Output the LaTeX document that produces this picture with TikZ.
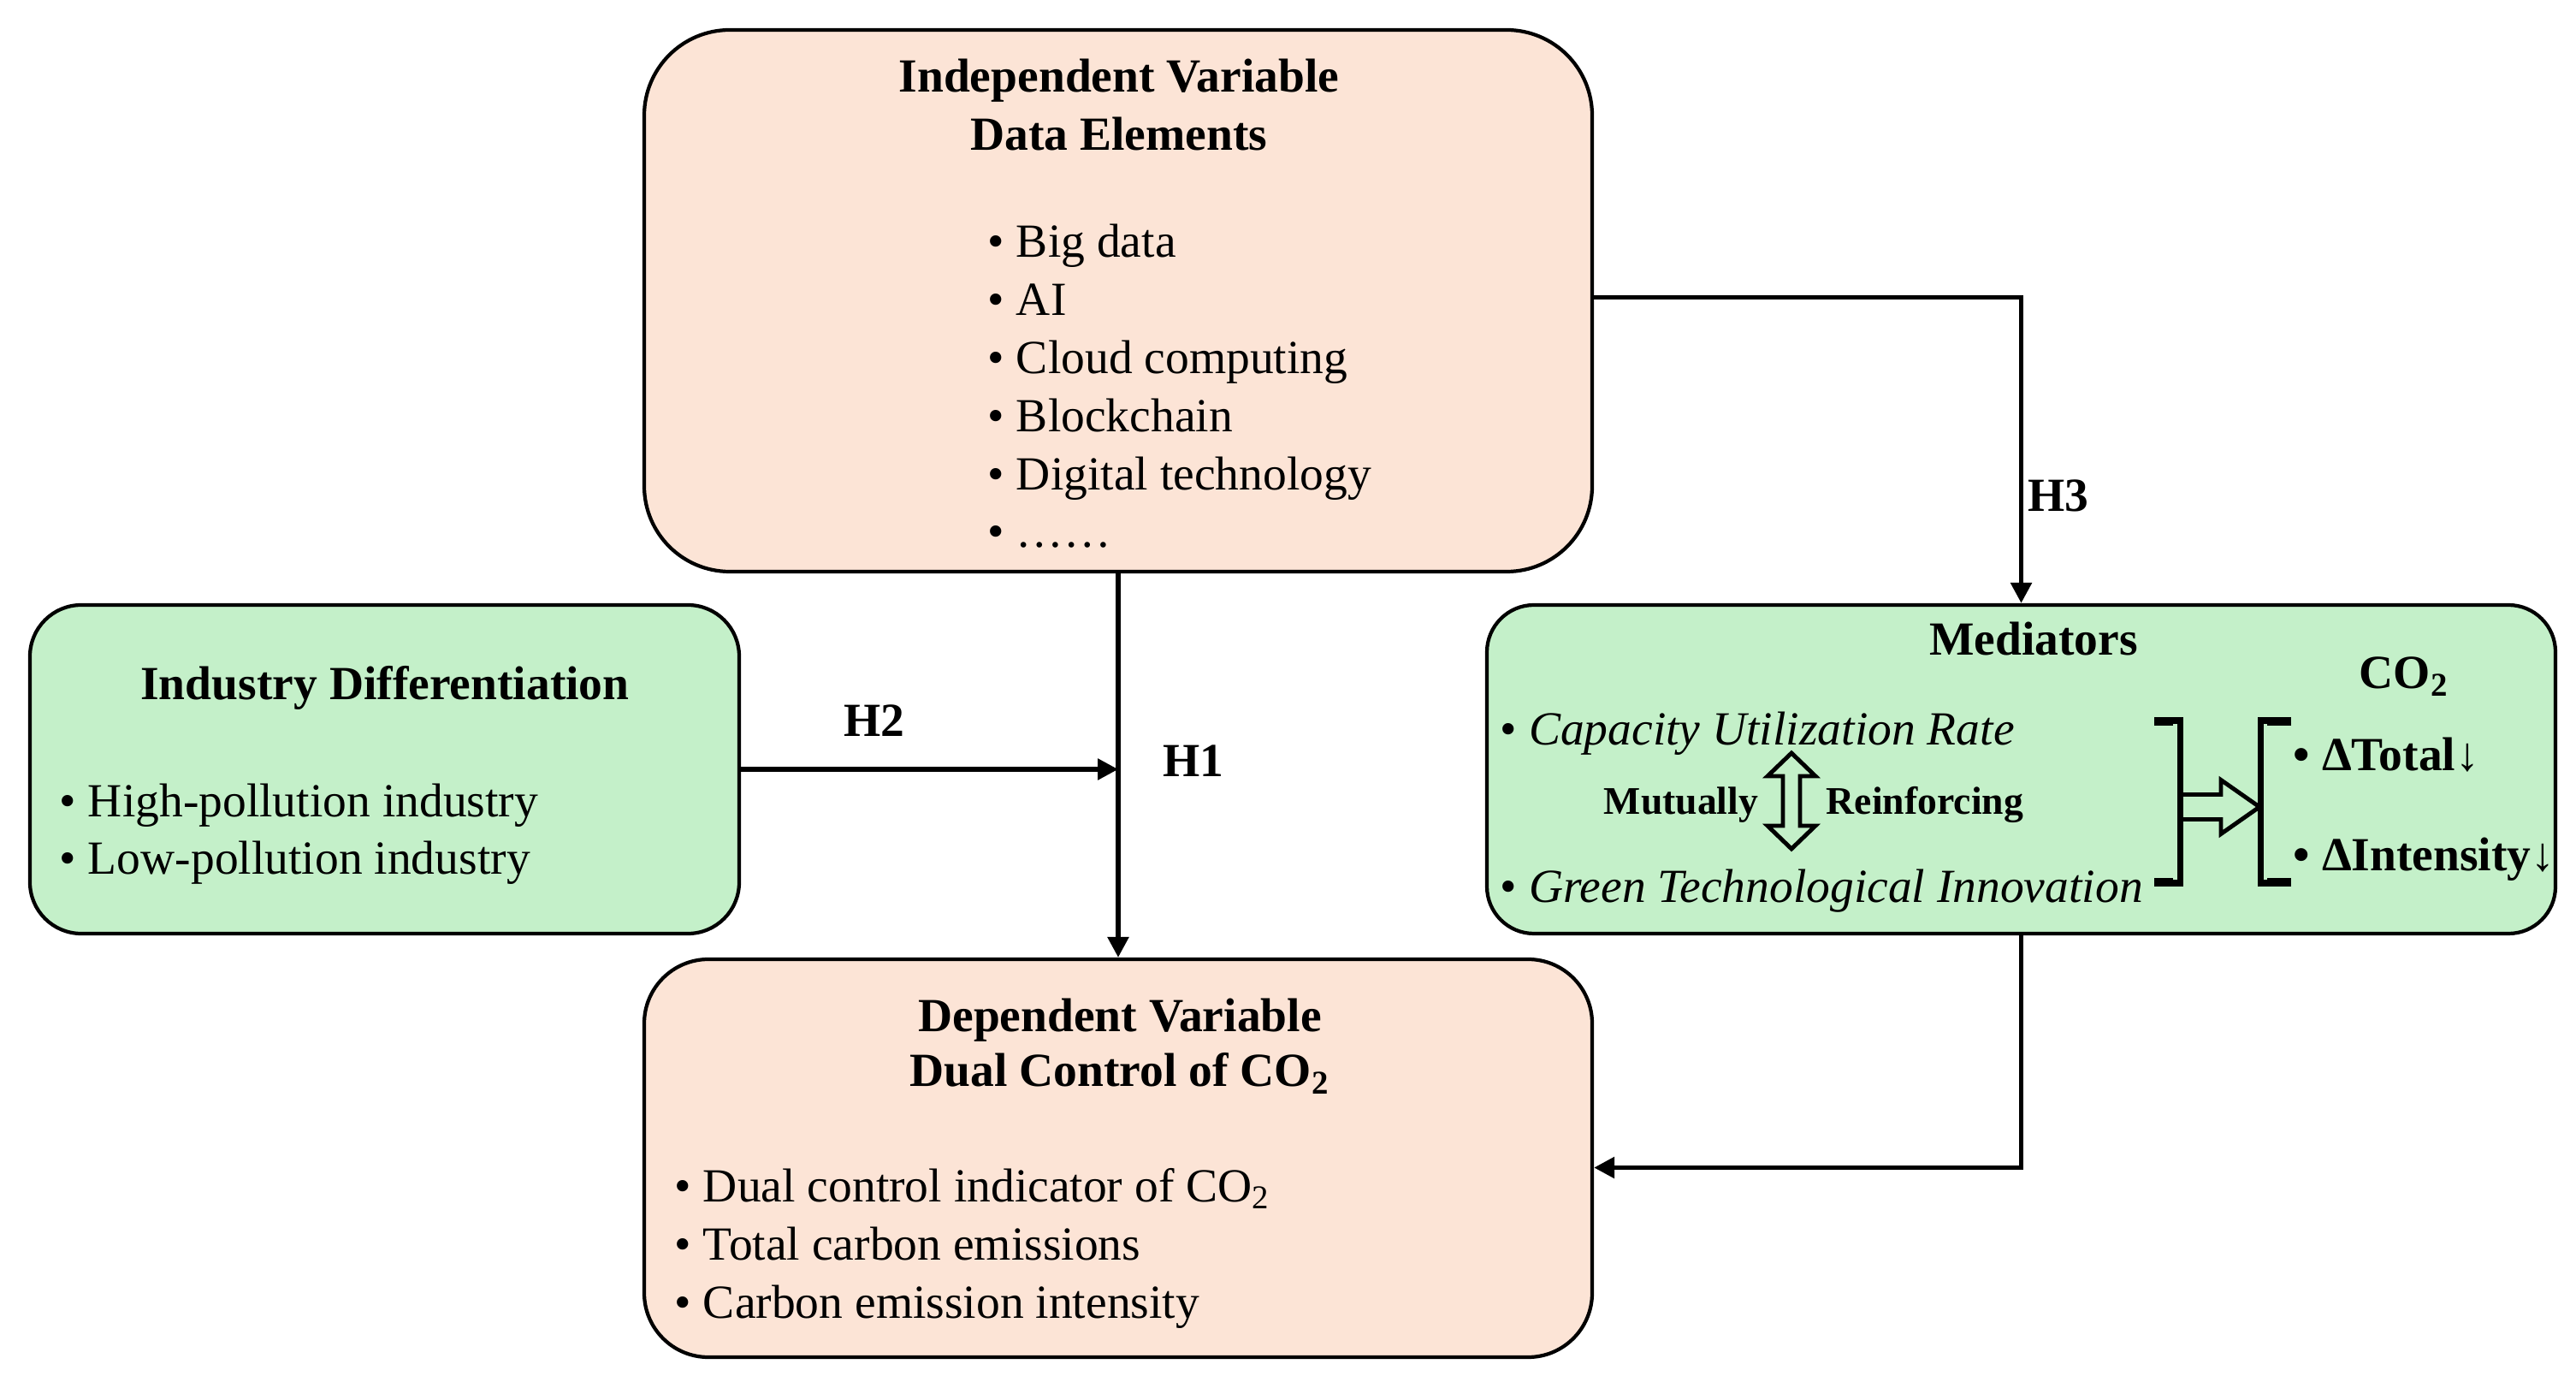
\documentclass[tikz,border=0pt]{standalone}
\usepackage{fontspec}
\setmainfont{Liberation Serif}
\usetikzlibrary{arrows.meta,positioning}
\definecolor{peach}{HTML}{FCE4D6}
\definecolor{mint}{HTML}{C4F0C9}

\tikzset{
  box/.style={draw, line width=1.2pt, rounded corners=#1, inner sep=0},
  arr/.style={line width=1.6pt, -{Triangle[length=2.4mm,width=2.4mm]}},
  ttl/.style={font=\fontsize{15.8}{19}\selectfont\bfseries, anchor=base, inner sep=0},
  itm/.style={font=\fontsize{15.8}{19}\selectfont, anchor=base west, inner sep=0},
  small/.style={font=\fontsize{13}{15}\selectfont\bfseries, anchor=base, inner sep=0},
}

\begin{document}
\begin{tikzpicture}
  \useasboundingbox (0,0) rectangle (30.11,-16.15);

  % Boxes
  \node[box=1cm, fill=peach, minimum width=11.08cm, minimum height=6.33cm] (indep) at (13.07,-3.515) {};
  \node[box=0.6cm, fill=mint, minimum width=8.29cm, minimum height=3.84cm] (indus) at (4.495,-8.99) {};
  \node[box=0.55cm, fill=mint, minimum width=12.49cm, minimum height=3.84cm] (medi) at (23.625,-8.99) {};
  \node[box=0.75cm, fill=peach, minimum width=11.08cm, minimum height=4.65cm] (dep) at (13.07,-13.535) {};

  % Independent variable
  \node[ttl] (indepT) at (13.08,-1.08) {Independent Variable};
  \node[ttl] (indepS) at (13.08,-1.76) {Data Elements};
  \foreach \t [count=\i] in {Big data, AI, Cloud computing, Blockchain, Digital technology, ……}
    \node[itm] (data\i) at (11.54,{-3.01-0.678*(\i-1)}) {• \t};

  % Dependent variable
  \node[ttl] (depT) at (13.09,-12.06) {Dependent Variable};
  \node[ttl] (depS) at (13.09,-12.70) {Dual Control of CO\textsubscript{2}};
  \node[itm] (dep1) at (7.88,-14.04) {• Dual control indicator of CO\textsubscript{2}};
  \node[itm] (dep2) at (7.88,-14.72) {• Total carbon emissions};
  \node[itm] (dep3) at (7.88,-15.40) {• Carbon emission intensity};

  % Industry differentiation
  \node[ttl] (indusT) at (4.50,-8.18) {Industry Differentiation};
  \node[itm] (indus1) at (0.69,-9.55) {• High-pollution industry};
  \node[itm] (indus2) at (0.69,-10.22) {• Low-pollution industry};

  % Mediators
  \node[ttl] (mediT) at (23.77,-7.66) {Mediators};
  \node[ttl] (co2) at (28.10,-8.05) {CO\textsubscript{2}};
  \node[itm] (cap) at (17.53,-8.71) {• \textit{Capacity Utilization Rate}};
  \node[itm] (green) at (17.53,-10.55) {• \textit{Green Technological Innovation}};
  \node[small] (mut) at (19.65,-9.52) {Mutually};
  \node[small] (rein) at (22.50,-9.52) {Reinforcing};
  \node[itm, font=\fontsize{15.8}{19}\selectfont\bfseries] (dtot) at (26.80,-9.01) {• ΔTotal↓};
  \node[itm, font=\fontsize{15.8}{19}\selectfont\bfseries] (dint) at (26.80,-10.18) {• ΔIntensity↓};

  % Double arrow and brackets
  \draw[line width=1.4pt] (20.94,-8.80) -- (21.22,-9.07) -- (21.04,-9.07) -- (21.04,-9.65) -- (21.22,-9.65)
    -- (20.94,-9.92) -- (20.66,-9.65) -- (20.84,-9.65) -- (20.84,-9.07) -- (20.66,-9.07) -- cycle;
  \draw[line width=2pt] (25.18,-8.42) -- (25.48,-8.42) -- (25.48,-10.32) -- (25.18,-10.32);
  \draw[line width=2pt] (26.78,-8.42) -- (26.42,-8.42) -- (26.42,-10.32) -- (26.78,-10.32);
  \draw[line width=3pt] (25.18,-8.43) -- (25.40,-8.43) (25.18,-10.31) -- (25.40,-10.31)
    (26.78,-8.43) -- (26.50,-8.43) (26.78,-10.31) -- (26.50,-10.31);
  \draw[line width=1.4pt] (25.52,-9.285) -- (25.96,-9.285) -- (25.96,-9.115) -- (26.41,-9.43)
    -- (25.96,-9.745) -- (25.96,-9.575) -- (25.52,-9.575);

  % Hypotheses
  \draw[arr] (indep.south) -- (dep.north);
  \draw[arr] (indus.east) -- (indus.east -| indep.south);
  \draw[arr] ([yshift=0.4mm]indep.east) -| (medi.north);
  \draw[arr] (medi.south) |- ([yshift=-1.1mm]dep.east);
  \node[ttl] (h1) at (13.95,-9.08) {H1};
  \node[ttl] (h2) at (10.22,-8.61) {H2};
  \node[ttl] (h3) at (24.06,-5.98) {H3};
\end{tikzpicture}
\end{document}
